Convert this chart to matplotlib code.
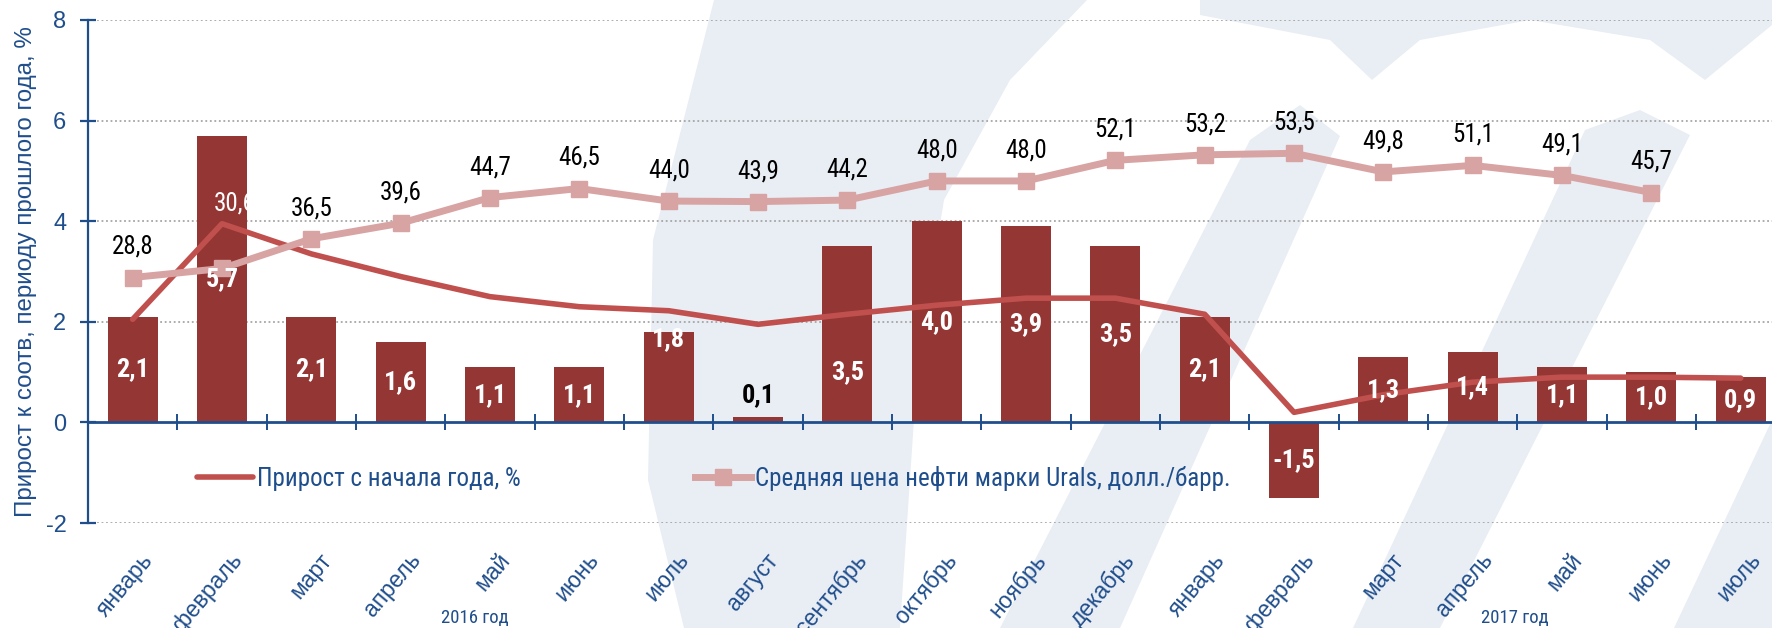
import numpy as np
import matplotlib
matplotlib.use("Agg")
import matplotlib.pyplot as plt
from matplotlib import font_manager
from matplotlib.font_manager import FontProperties
from matplotlib.patches import Polygon
from matplotlib.transforms import ScaledTranslation

# data
months = ["январь", "февраль", "март", "апрель", "май", "июнь", "июль", "август",
          "сентябрь", "октябрь", "ноябрь", "декабрь",
          "январь", "февраль", "март", "апрель", "май", "июнь", "июль"]
yoy_growth = [2.1, 5.7, 2.1, 1.6, 1.1, 1.1, 1.8, 0.1, 3.5, 4.0, 3.9, 3.5,
              2.1, -1.5, 1.3, 1.4, 1.1, 1.0, 0.9]
ytd_growth = [2.05, 3.95, 3.35, 2.9, 2.5, 2.3, 2.22, 1.95, 2.15, 2.33, 2.47, 2.47,
              2.15, 0.2, 0.55, 0.8, 0.9, 0.9, 0.88]
urals_price = [28.8, 30.6, 36.5, 39.6, 44.7, 46.5, 44.0, 43.9, 44.2, 48.0, 48.0, 52.1,
               53.2, 53.5, 49.8, 51.1, 49.1, 45.7]
year_labels = ["2016 год", "2017 год"]

BLUE = "#1F4E8C"
BAR = "#943634"
RED = "#C0504D"
PINK = "#D8A3A3"
WM = "#E9EDF4"

plt.rcParams["font.family"] = ["Liberation Sans", "DejaVu Sans"]


def is_bold(f):
    return f.weight in (700, "bold")


def is_regular(f):
    return f.weight in (400, "normal", "regular")


def find_narrow():
    # a condensed sans if one is installed (regular + bold files)
    fonts = [f for f in font_manager.fontManager.ttflist if f.style == "normal"]
    cands = []
    for want in ["Liberation Sans Narrow", "Arial Narrow", "Roboto Condensed"]:
        cands += [f for f in fonts if f.name == want]
    cands += [f for f in fonts if f.name in ("DejaVu Sans", "Noto Sans", "Open Sans", "Roboto")
              and str(f.stretch) in ("condensed", "semi-condensed")]
    for f in cands:
        if is_regular(f):
            bold = [g for g in cands if g.name == f.name and str(g.stretch) == str(f.stretch) and is_bold(g)]
            return f.fname, (bold[0].fname if bold else None)
    return None, None


narrow_file, narrow_bold = find_narrow()


def nfont(size, bold=False):
    if narrow_file:
        if bold and narrow_bold:
            return FontProperties(fname=narrow_bold, size=size)
        fp = FontProperties(fname=narrow_file, size=size)
    else:
        fp = FontProperties(family="Liberation Sans", size=size * 0.82)
    if bold:
        fp.set_weight("bold")
    return fp


W, H = 1772, 628
fig = plt.figure(figsize=(W / 100, H / 100), dpi=100)


# faint background logo (rough shapes, image pixel coords)
def wm(points):
    pts = [(px / W, 1 - py / H) for px, py in points]
    fig.patches.append(Polygon(pts, closed=True, transform=fig.transFigure,
                               facecolor=WM, edgecolor="none", zorder=-5))


wm([(714, 0), (1087, 0), (1010, 80), (944, 200), (918, 360), (900, 628),
    (684, 628), (648, 480), (653, 240)])
wm([(1000, 628), (1120, 628), (1340, 136), (1300, 105), (1250, 140)])
wm([(1353, 628), (1440, 628), (1690, 135), (1640, 110), (1585, 130)])
wm([(1674, 628), (1772, 628), (1772, 420)])
wm([(1200, 0), (1772, 0), (1772, 25), (1705, 80), (1650, 40), (1530, 20),
    (1420, 40), (1372, 80), (1330, 40), (1200, 15)])

ax = fig.add_axes([88 / W, 1 - 523 / H, 1 - 88 / W, (523 - 20) / H])
ax.set_facecolor("none")
x = np.arange(len(months))

ax.bar(x, yoy_growth, width=0.56, color=BAR, zorder=2)
ax.plot(x, ytd_growth, color=RED, lw=4, zorder=3, solid_capstyle="round",
        label="Прирост с начала года, %")

ax.set_xlim(-0.5, 18.35)
ax.set_ylim(-2, 8)
ax.set_yticks([-2, 0, 2, 4, 6, 8])
ax.set_yticklabels(["-2", "0", "2", "4", "6", "8"])
for yv in [-2, 2, 4, 6, 8]:
    ax.axhline(yv, color="#A6A6A6", lw=1.3, ls=(0, (1, 1.5)), zorder=1)

for s in ["top", "right"]:
    ax.spines[s].set_visible(False)
ax.spines["left"].set_color(BLUE)
ax.spines["left"].set_linewidth(1.6)
ax.spines["bottom"].set_position(("data", 0))
ax.spines["bottom"].set_color(BLUE)
ax.spines["bottom"].set_linewidth(2)
ax.spines["bottom"].set_zorder(4)

ax.tick_params(axis="y", direction="inout", length=11, width=1.6, color=BLUE,
               labelcolor=BLUE, labelsize=17, pad=10)
ax.set_xticks(x)
ax.set_xticklabels(months, rotation=50, ha="right", rotation_mode="anchor",
                   color=BLUE, fontsize=16.5)
ax.set_xticks(x[:-1] + 0.5, minor=True)
ax.tick_params(axis="x", which="major", length=0, pad=91)
ax.tick_params(axis="x", which="minor", direction="inout", length=12, width=1.4, color=BLUE)
shift = ScaledTranslation(7 / 100, 0, fig.dpi_scale_trans)
for lab in ax.get_xticklabels():
    lab.set_transform(lab.get_transform() + shift)

ax.set_ylabel("Прирост к соотв, периоду прошлого года, %", color=BLUE, fontsize=17.4)
ax.yaxis.set_label_coords(-0.030, 0.5)

ax.text(3.83, -3.88, year_labels[0], color=BLUE, fontproperties=nfont(13.5), ha="center", va="center")
ax.text(15.47, -3.88, year_labels[1], color=BLUE, fontproperties=nfont(13.5), ha="center", va="center")

# oil price on hidden secondary axis
ax2 = ax.twinx()
ax2.set_ylim(-20, 80)
ax2.axis("off")
ax2.plot(np.arange(len(urals_price)), urals_price, color=PINK, lw=5, marker="s",
         markersize=11, zorder=3, label="Средняя цена нефти марки Urals, долл./барр.")
for i, v in enumerate(urals_price):
    txt = f"{v:.1f}".replace(".", ",")
    white = i == 1
    ax2.annotate(txt, (i, v), xytext=(9, 47) if white else (0, 22), textcoords="offset points",
                 ha="center", va="center", fontproperties=nfont(18),
                 color="white" if white else "black")

# bar value labels
label_y = {6: 1.66, 8: 1.0, 7: 0.55}
for i, v in enumerate(yoy_growth):
    txt = f"{v:.1f}".replace(".", ",")
    yy = label_y.get(i, v / 2)
    ax2.text(i, yy, txt, transform=ax.transData, ha="center", va="center",
             fontproperties=nfont(19, bold=True),
             color="black" if i == 7 else "white", zorder=5)

h1, l1 = ax.get_legend_handles_labels()
h2, l2 = ax2.get_legend_handles_labels()
leg_fp = nfont(18)
em = leg_fp.get_size() * 100 / 72
ax2.legend(h1 + h2, l1 + l2, loc="center left", bbox_to_anchor=(0.065, 0.089), ncol=2,
           frameon=False, borderaxespad=0, borderpad=0,
           handlelength=56 / em, handletextpad=4 / em, columnspacing=174 / em,
           labelcolor=BLUE, prop=leg_fp)

fig.savefig("out.png", dpi=100)
